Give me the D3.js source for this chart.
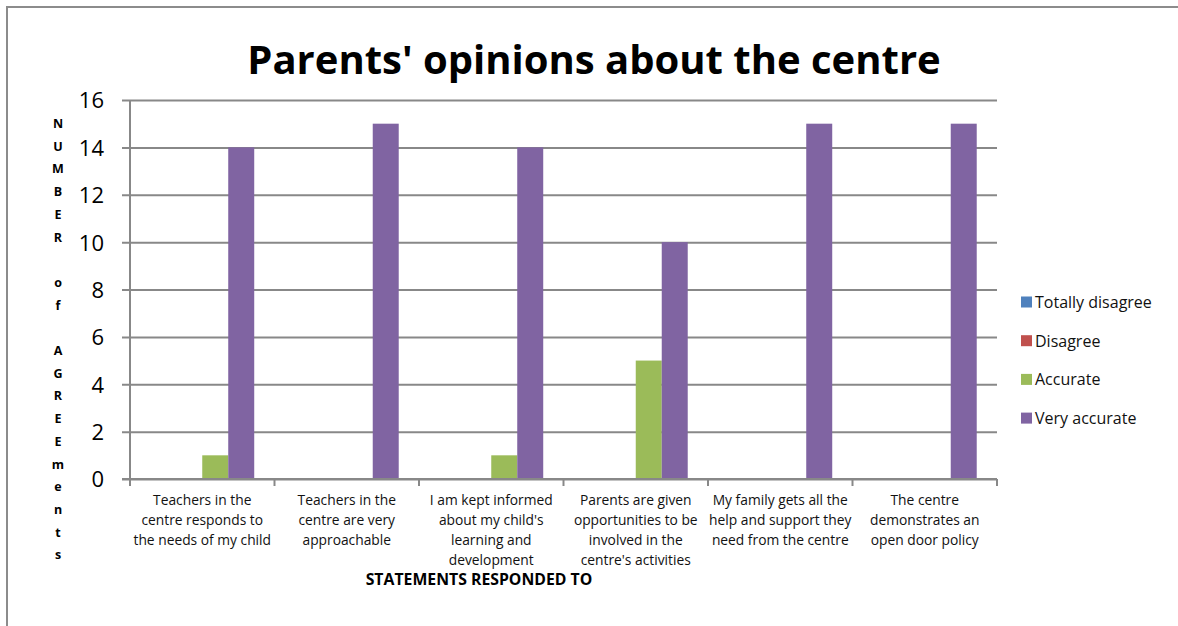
<!DOCTYPE html>
<html>
<head>
<meta charset="utf-8">
<script src="https://cdn.jsdelivr.net/npm/d3@7"></script>
<style>
  html, body { margin: 0; padding: 0; background: #fff; }
  svg { display: block; font-family: "Open Sans", "DejaVu Sans", sans-serif; }
</style>
</head>
<body>
<svg id="chart" width="1178" height="626"></svg>
<script>
// Survey statements (x categories), one text line per array entry
const categories = [
  ["Teachers in the", "centre responds to", "the needs of my child"],
  ["Teachers in the", "centre are very", "approachable"],
  ["I am kept informed", "about my child's", "learning and", "development"],
  ["Parents are given", "opportunities to be", "involved in the", "centre's activities"],
  ["My family gets all  the", "help and support they", "need from the centre"],
  ["The centre", "demonstrates an", "open door policy"]
];
const seriesNames = ["Totally disagree", "Disagree", "Accurate", "Very accurate"];
const totallyDisagree = [0, 0, 0, 0, 0, 0];
const disagree = [0, 0, 0, 0, 0, 0];
const accurate = [1, 0, 1, 5, 0, 0];
const veryAccurate = [14, 15, 14, 10, 15, 15];
const yTicks = [0, 2, 4, 6, 8, 10, 12, 14, 16];
const yTitle = "NUMBER of AGREEments";
const xTitle = "STATEMENTS RESPONDED TO";
const chartTitle = "Parents' opinions about the centre";

const seriesValues = [totallyDisagree, disagree, accurate, veryAccurate];
const colors = ["#4F81BD", "#C0504D", "#9BBB59", "#8064A2"];

const svg = d3.select("#chart");
const plot = { left: 130, right: 997, top: 100, bottom: 479 };
const gridColor = "#888888";

// Outer chart frame (only top and left edges fall inside the view)
svg.append("path")
  .attr("d", "M7,626 V7 H1178")
  .attr("fill", "none")
  .attr("stroke", "#8c8c8c")
  .attr("stroke-width", 2);

const x0 = d3.scaleBand()
  .domain(d3.range(categories.length))
  .range([plot.left, plot.right])
  .paddingInner(0)
  .paddingOuter(0);

const x1 = d3.scaleBand()
  .domain(d3.range(seriesNames.length))
  .range([0, x0.bandwidth()])
  .paddingOuter(0.78)
  .paddingInner(0);

const y = d3.scaleLinear()
  .domain([0, 16])
  .range([plot.bottom, plot.top]);

// Horizontal gridlines with left tick marks
const yAxis = d3.axisLeft(y)
  .tickValues(yTicks)
  .tickSize(-(plot.right - plot.left))
  .tickSizeOuter(0)
  .tickPadding(26);

const gy = svg.append("g")
  .attr("transform", `translate(${plot.left},0)`)
  .call(yAxis);
gy.select(".domain").remove();
gy.selectAll(".tick line")
  .attr("x1", -8)
  .attr("stroke", gridColor)
  .attr("stroke-width", 2);
gy.selectAll(".tick text")
  .attr("font-family", "Open Sans")
  .attr("font-size", 22)
  .attr("fill", "#000")
  .attr("dy", "0.36em");

// Bars
const groups = svg.append("g")
  .selectAll("g")
  .data(categories.map((c, i) => i))
  .join("g")
  .attr("transform", i => `translate(${x0(i)},0)`);

groups.selectAll("rect")
  .data(i => seriesValues.map((vals, s) => ({ s, v: vals[i] })))
  .join("rect")
  .attr("x", d => x1(d.s))
  .attr("width", x1.bandwidth())
  .attr("y", d => y(d.v))
  .attr("height", d => y(0) - y(d.v))
  .attr("fill", d => colors[d.s]);

// Value axis line
svg.append("line")
  .attr("x1", plot.left).attr("x2", plot.left)
  .attr("y1", plot.top).attr("y2", plot.bottom)
  .attr("stroke", gridColor).attr("stroke-width", 2);

// Category axis with boundary ticks
const xBounds = d3.range(categories.length + 1).map(i =>
  i < categories.length ? x0(i) : x0(i - 1) + x0.bandwidth());
const gx = svg.append("g");
gx.append("line")
  .attr("x1", plot.left - 8).attr("x2", plot.right)
  .attr("y1", plot.bottom).attr("y2", plot.bottom)
  .attr("stroke", gridColor).attr("stroke-width", 2);
gx.selectAll("line.tk")
  .data(xBounds)
  .join("line")
  .attr("class", "tk")
  .attr("x1", d => d).attr("x2", d => d)
  .attr("y1", plot.bottom).attr("y2", plot.bottom + 7)
  .attr("stroke", gridColor).attr("stroke-width", 2);

const catLabels = gx.selectAll("text.cat")
  .data(categories)
  .join("text")
  .attr("class", "cat")
  .attr("text-anchor", "middle")
  .attr("font-size", 13.8)
  .attr("fill", "#111");
catLabels.each(function (lines, i) {
  d3.select(this).selectAll("tspan")
    .data(lines)
    .join("tspan")
    .attr("x", x0(i) + x0.bandwidth() / 2)
    .attr("y", (d, k) => 505 + k * 20)
    .text(d => d);
});

// Chart title
svg.append("text")
  .attr("x", 594)
  .attr("y", 74)
  .attr("text-anchor", "middle")
  .attr("font-size", 40)
  .attr("font-weight", "bold")
  .attr("fill", "#000")
  .text(chartTitle);

// X axis title
svg.append("text")
  .attr("x", 479)
  .attr("y", 585)
  .attr("text-anchor", "middle")
  .attr("font-size", 15.8)
  .attr("font-weight", "bold")
  .attr("fill", "#000")
  .text(xTitle);

// Y axis title, stacked one character per row
const yChars = yTitle.split("");
svg.append("g")
  .selectAll("text")
  .data(yChars)
  .join("text")
  .attr("x", 58)
  .attr("y", (d, i) => 128 + i * 22.7)
  .attr("text-anchor", "middle")
  .attr("font-size", 12.5)
  .attr("font-weight", "bold")
  .attr("fill", "#000")
  .text(d => d);

// Legend
const legend = svg.append("g")
  .selectAll("g")
  .data(seriesNames)
  .join("g")
  .attr("transform", (d, i) => `translate(1021,${302 + i * 38.7})`);
legend.append("rect")
  .attr("x", 0).attr("y", -5.5)
  .attr("width", 11).attr("height", 11)
  .attr("fill", (d, i) => colors[i]);
legend.append("text")
  .attr("x", 14)
  .attr("y", 6)
  .attr("font-size", 16)
  .attr("fill", "#111")
  .text(d => d);
</script>
</body>
</html>
